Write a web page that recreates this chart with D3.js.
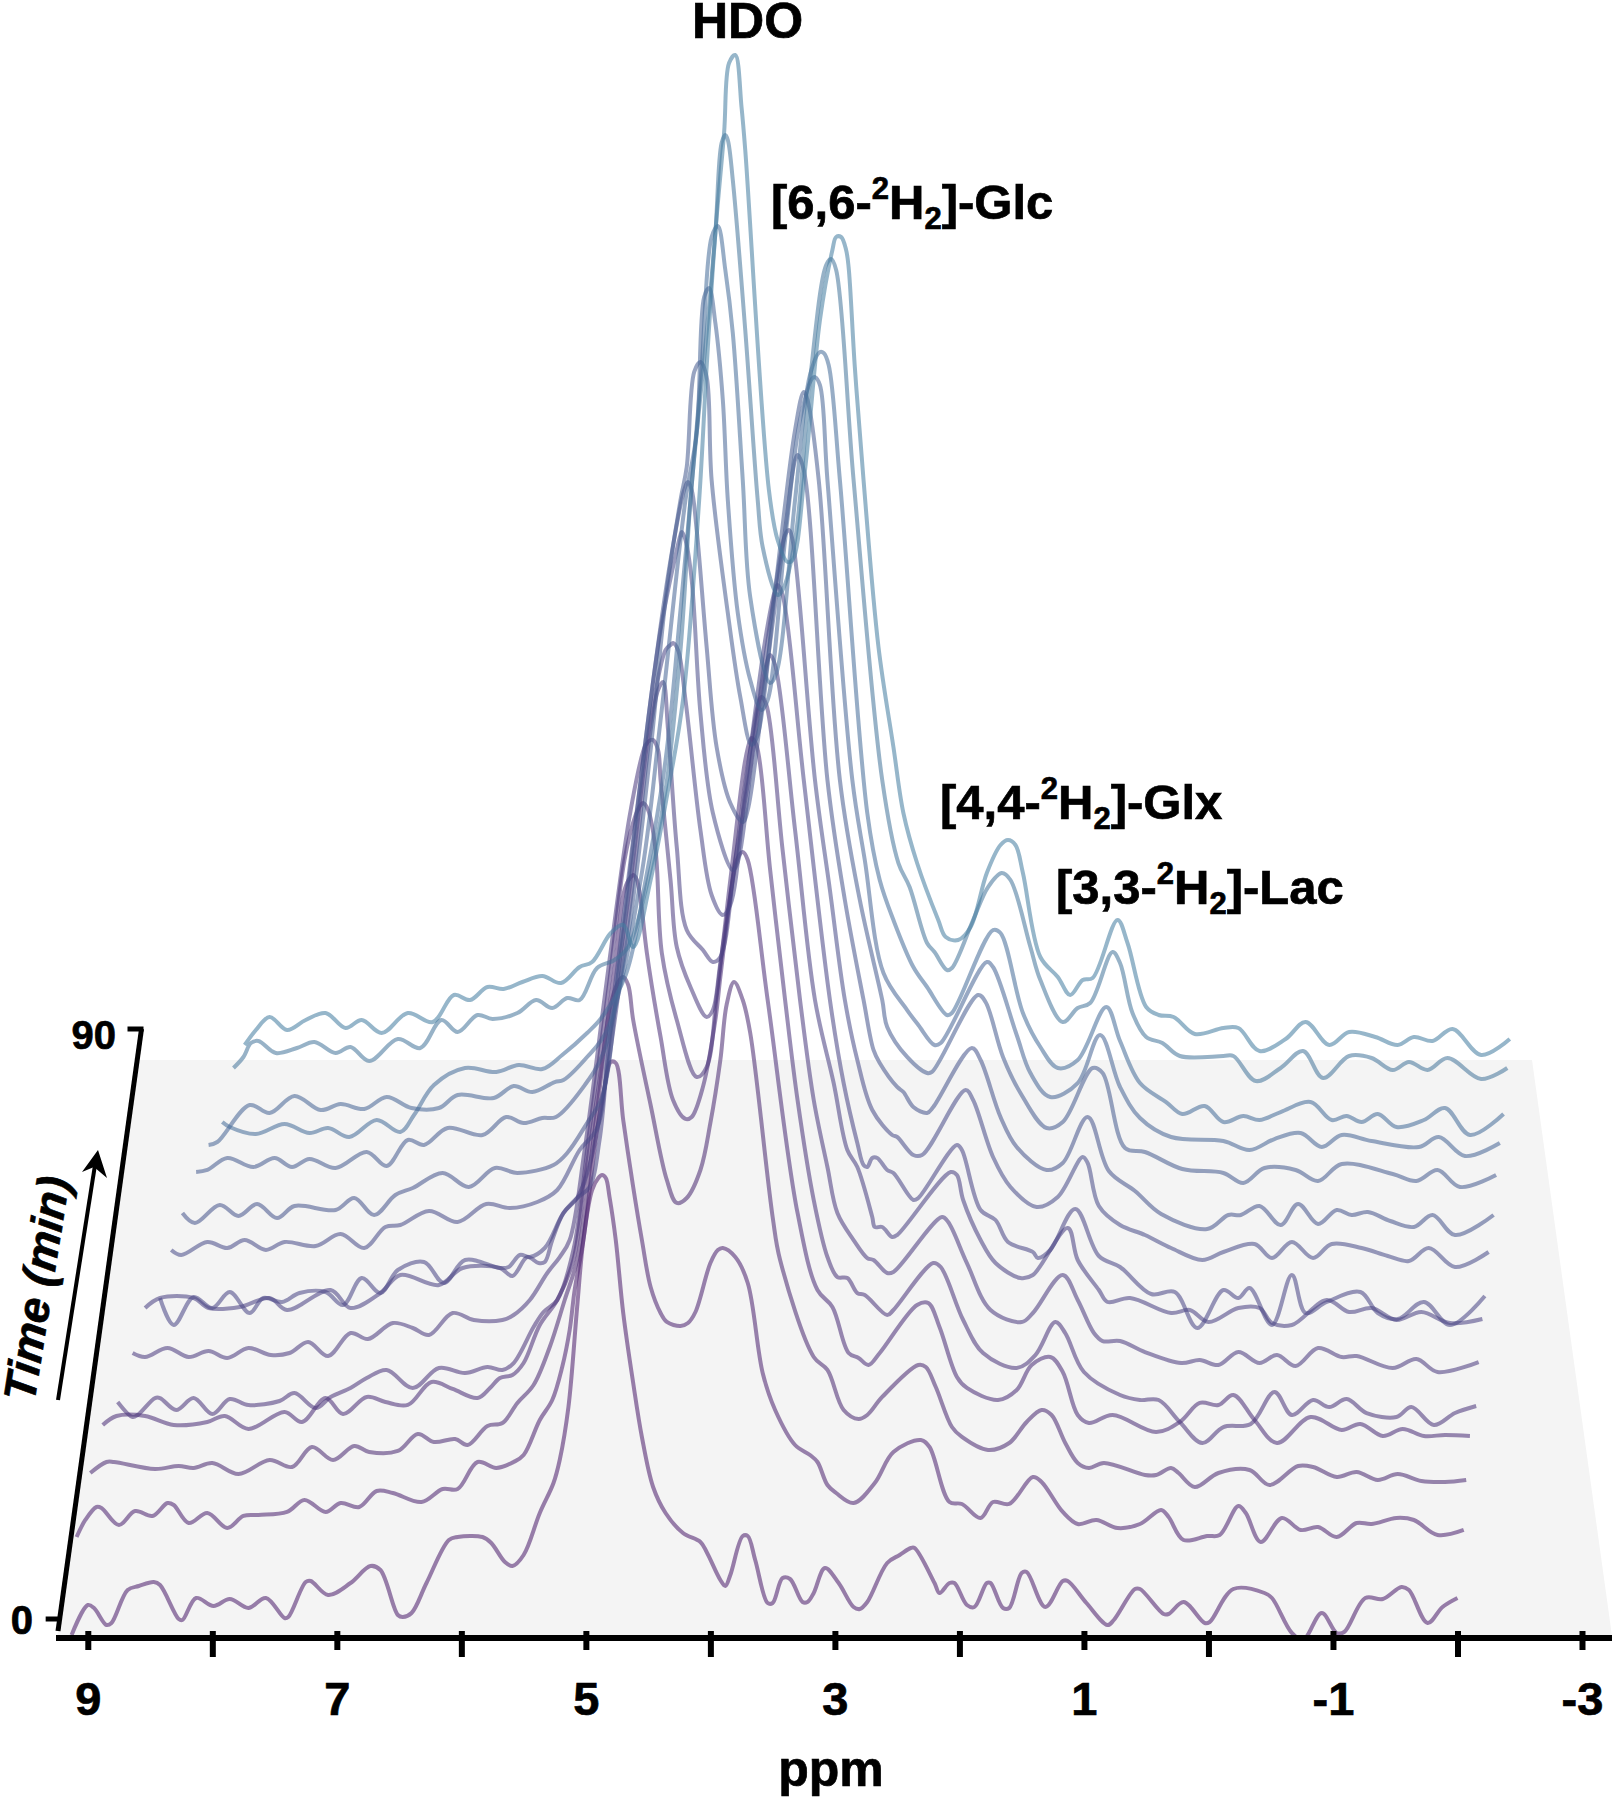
<!DOCTYPE html>
<html><head><meta charset="utf-8">
<script src="https://cdn.jsdelivr.net/npm/d3@7"></script>
<style>html,body{margin:0;padding:0;background:#fff}svg{display:block}text{font-family:"Liberation Sans",Arial,sans-serif;font-weight:700;fill:#000;stroke:#000;stroke-width:.7px}</style>
</head><body><svg id="c" width="1619" height="1800"></svg>
<script>
// [ppm as read on the axis below the trace, intensity in a.u.]
const t00=[[9.13,-35],[9.00,-5],[8.95,-8],[8.85,-25],[8.81,-23],[8.68,10],[8.59,14],[8.47,18],[8.42,15],[8.27,-19],[8.24,-20],[8.13,2],[7.99,-6],[7.86,1],[7.71,-8],[7.57,2],[7.42,-18],[7.39,-17],[7.25,18],[7.21,19],[7.07,5],[6.89,17],[6.73,34],[6.65,30],[6.51,-15],[6.47,-17],[6.40,-13],[6.28,17],[6.10,60],[6.03,63],[5.83,63],[5.76,57],[5.65,38],[5.59,34],[5.50,45],[5.37,87],[5.26,117],[5.21,140],[5.14,193],[5.07,293],[5.02,360],[4.95,410],[4.90,422],[4.87,425],[4.84,422],[4.81,403],[4.76,360],[4.70,287],[4.62,217],[4.55,163],[4.46,113],[4.36,87],[4.22,67],[4.08,58],[4.03,48],[3.92,20],[3.88,14],[3.84,25],[3.74,64],[3.70,64],[3.64,40],[3.54,-3],[3.50,-3],[3.42,22],[3.36,21],[3.26,-2],[3.22,-2],[3.17,7],[3.08,32],[2.97,17],[2.85,-7],[2.80,-9],[2.74,-2],[2.58,37],[2.48,45],[2.39,52],[2.36,52],[2.20,17],[2.16,7],[2.08,17],[2.04,17],[1.94,-5],[1.88,-7],[1.78,17],[1.75,17],[1.65,-8],[1.60,-8],[1.50,27],[1.46,28],[1.31,-7],[1.17,19],[1.13,19],[.98,-3],[.81,-25],[.76,-20],[.59,11],[.55,11],[.36,-14],[.32,-14],[.20,-2],[.03,-23],[-.01,-22],[-.20,11],[-.45,7],[-.51,2],[-.67,-33],[-.76,-40],[-.91,-13],[-1.03,-33],[-1.09,-32],[-1.26,2],[-1.40,1],[-1.55,13],[-1.61,10],[-1.76,-23],[-1.88,-7],[-2.00,2]];
const t01=[[9.09,23],[9.02,40],[8.93,53],[8.89,52],[8.75,35],[8.62,49],[8.48,44],[8.36,57],[8.31,55],[8.19,37],[8.04,47],[7.88,32],[7.75,44],[7.63,45],[7.40,48],[7.26,60],[7.09,48],[6.97,57],[6.82,53],[6.68,69],[6.55,67],[6.32,58],[6.15,71],[6.03,71],[5.87,98],[5.72,92],[5.58,98],[5.50,105],[5.37,140],[5.27,160],[5.19,193],[5.13,230],[5.09,270],[5.02,320],[4.91,430],[4.85,473],[4.80,498],[4.76,497],[4.70,440],[4.62,373],[4.55,320],[4.48,273],[4.40,247],[4.35,238],[4.24,234],[4.18,237],[4.12,248],[4.00,297],[3.94,310],[3.90,312],[3.80,303],[3.70,277],[3.58,187],[3.48,150],[3.32,115],[3.20,105],[3.14,98],[3.06,75],[2.99,67],[2.85,57],[2.68,77],[2.53,108],[2.31,120],[2.24,113],[2.08,58],[1.98,56],[1.83,42],[1.73,58],[1.60,56],[1.41,83],[1.34,78],[1.17,48],[1.05,36],[.90,40],[.73,32],[.55,36],[.38,50],[.32,43],[.20,20],[.01,24],[-.09,25],[-.24,54],[-.30,47],[-.42,18],[-.59,42],[-.74,30],[-.88,33],[-1.03,23],[-1.19,37],[-1.31,36],[-1.51,42],[-1.65,40],[-1.84,25],[-2.05,30]];
const t02=[[8.98,47],[8.85,58],[8.79,58],[8.46,51],[8.27,54],[8.15,52],[8.00,57],[7.79,46],[7.54,60],[7.36,53],[7.20,73],[7.03,60],[6.86,74],[6.74,68],[6.51,69],[6.35,86],[6.22,78],[6.05,81],[5.95,75],[5.79,94],[5.67,97],[5.55,117],[5.42,135],[5.29,173],[5.17,220],[5.07,260],[4.97,350],[4.89,430],[4.81,510],[4.74,538],[4.70,543],[4.66,535],[4.62,500],[4.48,415],[4.35,340],[4.27,317],[4.19,322],[4.08,350],[4.00,397],[3.92,460],[3.87,515],[3.81,538],[3.74,520],[3.68,487],[3.50,303],[3.44,260],[3.17,163],[3.06,150],[2.93,110],[2.81,101],[2.74,105],[2.62,123],[2.33,155],[2.27,153],[2.19,133],[2.06,93],[1.98,83],[1.77,70],[1.60,77],[1.46,98],[1.34,110],[1.26,105],[1.15,77],[1.05,57],[.96,52],[.84,57],[.51,45],[.42,45],[.30,52],[.24,47],[.11,33],[-.08,47],[-.33,50],[-.49,35],[-.72,54],[-.84,53],[-1.03,43],[-1.19,48],[-1.36,40],[-1.52,46],[-1.71,39],[-1.90,38],[-2.07,40]];
const t03=[[8.88,55],[8.77,64],[8.54,64],[8.31,55],[8.04,58],[7.90,64],[7.71,51],[7.42,68],[7.28,58],[7.09,82],[6.95,66],[6.76,83],[6.61,78],[6.43,75],[6.24,98],[6.07,91],[5.87,82],[5.77,92],[5.69,102],[5.59,105],[5.50,117],[5.37,155],[5.23,180],[5.10,220],[5.01,300],[4.89,400],[4.76,520],[4.69,590],[4.64,603],[4.62,605],[4.59,600],[4.56,580],[4.51,527],[4.40,443],[4.30,380],[4.20,361],[4.15,363],[4.06,393],[3.96,460],[3.92,503],[3.82,600],[3.78,622],[3.74,628],[3.70,620],[3.54,480],[3.30,267],[3.14,190],[3.02,173],[2.89,127],[2.81,122],[2.73,115],[2.64,127],[2.34,175],[2.25,177],[2.16,153],[2.02,103],[1.94,92],[1.69,80],[1.54,90],[1.42,115],[1.27,123],[1.17,108],[1.05,65],[.96,57],[.77,65],[.42,48],[.23,58],[.07,77],[-.08,75],[-.20,85],[-.37,60],[-.55,37],[-.82,63],[-1.07,50],[-1.22,56],[-1.40,44],[-1.56,51],[-1.73,44],[-1.90,45],[-2.10,44]];
const t04=[[8.76,38],[8.64,23],[8.60,25],[8.46,42],[8.42,42],[8.29,30],[8.15,42],[8.00,26],[7.86,41],[7.71,35],[7.46,39],[7.34,47],[7.17,32],[7.05,43],[6.89,52],[6.76,62],[6.60,70],[6.39,52],[6.18,72],[5.97,67],[5.79,73],[5.67,70],[5.58,77],[5.42,113],[5.34,128],[5.23,140],[5.10,190],[4.97,310],[4.81,460],[4.69,580],[4.60,625],[4.56,635],[4.54,637],[4.50,630],[4.44,590],[4.39,487],[4.27,420],[4.11,363],[4.03,373],[3.95,443],[3.84,560],[3.72,680],[3.68,700],[3.67,702],[3.63,695],[3.52,570],[3.40,440],[3.30,340],[3.17,240],[3.06,183],[2.98,163],[2.90,162],[2.82,147],[2.76,145],[2.58,125],[2.53,130],[2.21,177],[2.15,173],[1.97,120],[1.81,87],[1.54,72],[1.39,85],[1.23,118],[1.15,107],[1.00,68],[.71,45],[.55,40],[.40,40],[.23,18],[.05,-3],[-.12,13],[-.34,16],[-.53,48],[-.67,25],[-.84,40],[-.97,33],[-1.11,41],[-1.27,27],[-1.51,23],[-1.63,33],[-1.81,15],[-1.98,27],[-2.15,34]];
const t05=[[8.64,47],[8.54,43],[8.36,52],[8.19,43],[8.03,49],[7.88,42],[7.71,52],[7.53,45],[7.38,47],[7.23,58],[7.07,44],[6.89,67],[6.75,61],[6.55,77],[6.39,72],[6.26,65],[6.07,87],[5.90,80],[5.67,80],[5.58,85],[5.45,100],[5.31,127],[5.21,143],[5.13,160],[5.01,250],[4.81,440],[4.64,590],[4.52,655],[4.48,660],[4.46,660],[4.42,650],[4.40,620],[4.32,520],[4.27,453],[4.16,413],[4.03,383],[3.98,390],[3.92,437],[3.80,540],[3.68,650],[3.59,703],[3.55,695],[3.42,550],[3.28,400],[3.17,300],[3.06,233],[2.98,187],[2.85,160],[2.74,142],[2.69,140],[2.58,127],[2.53,128],[2.14,183],[2.09,178],[1.94,137],[1.75,90],[1.50,78],[1.41,87],[1.17,125],[1.05,100],[.92,67],[.85,59],[.71,59],[.51,48],[.22,37],[.07,40],[-.08,35],[-.24,48],[-.41,37],[-.55,45],[-.70,34],[-.88,52],[-1.07,43],[-1.19,44],[-1.48,32],[-1.67,41],[-1.84,28],[-2.17,38]];
const t06=[[8.54,52],[8.42,62],[8.15,62],[8.03,52],[7.78,53],[7.54,62],[7.40,50],[7.05,70],[6.89,52],[6.65,67],[6.49,85],[6.18,75],[5.99,92],[5.69,92],[5.59,84],[5.47,103],[5.38,97],[5.33,98],[5.27,120],[5.18,147],[5.07,162],[4.97,195],[4.84,280],[4.64,460],[4.48,630],[4.42,670],[4.38,678],[4.34,630],[4.27,513],[4.19,430],[4.06,410],[3.98,398],[3.92,403],[3.80,500],[3.68,590],[3.56,690],[3.52,705],[3.48,695],[3.32,530],[3.16,360],[3.01,277],[2.90,210],[2.82,193],[2.70,143],[2.68,133],[2.62,133],[2.54,123],[2.50,125],[2.07,188],[2.02,185],[1.97,160],[1.83,120],[1.71,97],[1.51,82],[1.41,85],[1.13,132],[1.05,100],[.88,70],[.81,58],[.63,62],[.30,47],[.15,50],[0,38],[-.24,52],[-.41,52],[-.51,37],[-.67,35],[-.95,60],[-1.13,48],[-1.31,52],[-1.51,40],[-1.71,48],[-1.94,37],[-2.20,41]];
const t07=[[8.42,22],[8.31,-5],[8.15,23],[8.00,12],[7.86,28],[7.70,7],[7.59,22],[7.44,18],[7.30,27],[7.09,28],[6.95,15],[6.80,42],[6.65,27],[6.51,50],[6.30,58],[6.14,37],[5.97,60],[5.69,52],[5.62,53],[5.53,65],[5.45,63],[5.33,72],[5.18,107],[5.07,122],[4.97,133],[4.89,180],[4.81,280],[4.64,440],[4.48,600],[4.36,670],[4.32,675],[4.30,677],[4.26,670],[4.20,620],[4.08,490],[3.99,425],[3.90,405],[3.84,415],[3.72,530],[3.56,680],[3.48,730],[3.46,735],[3.42,725],[3.25,540],[3.04,320],[2.93,237],[2.82,177],[2.77,155],[2.74,153],[2.70,162],[2.66,162],[2.58,150],[2.53,147],[2.37,120],[2.33,122],[2.02,175],[1.98,170],[1.83,110],[1.71,100],[1.61,78],[1.41,68],[1.37,62],[1.27,70],[1.07,111],[.88,64],[.71,53],[.46,26],[.27,28],[.09,-8],[-.12,30],[-.24,22],[-.33,32],[-.51,-5],[-.67,45],[-.78,7],[-.95,18],[-1.22,28],[-1.36,7],[-1.52,1],[-1.73,18],[-1.94,-5],[-2.22,24]];
const t08=[[8.33,30],[8.25,25],[8.04,38],[7.88,32],[7.74,40],[7.57,30],[7.42,38],[7.17,34],[6.97,46],[6.78,32],[6.61,53],[6.49,55],[6.26,69],[6.03,58],[5.80,76],[5.61,72],[5.39,78],[5.23,90],[5.05,130],[4.91,152],[4.81,250],[4.56,500],[4.40,650],[4.27,730],[4.24,745],[4.23,748],[4.20,740],[4.15,700],[4.08,567],[3.98,467],[3.82,410],[3.78,418],[3.64,550],[3.48,690],[3.40,745],[3.37,750],[3.34,740],[3.16,500],[3.04,390],[2.92,280],[2.82,220],[2.70,170],[2.54,145],[2.50,143],[2.37,125],[2.30,125],[1.95,190],[1.89,180],[1.73,123],[1.59,93],[1.38,73],[1.21,83],[1.01,123],[.97,117],[.88,74],[.71,55],[.51,45],[.30,32],[.05,20],[-.12,28],[-.37,36],[-.51,22],[-.67,38],[-.84,22],[-.99,36],[-1.23,32],[-1.44,24],[-1.61,19],[-1.77,32],[-1.98,13],[-2.25,28]];
const t09=[[8.24,27],[8.14,17],[7.94,35],[7.79,24],[7.64,36],[7.48,22],[7.34,34],[7.01,30],[6.86,42],[6.70,25],[6.53,45],[6.39,52],[6.15,67],[5.94,53],[5.73,72],[5.55,67],[5.26,75],[5.15,87],[4.99,117],[4.87,143],[4.72,290],[4.48,540],[4.32,680],[4.21,750],[4.18,758],[4.15,750],[4.11,710],[4.03,593],[3.95,493],[3.84,437],[3.74,418],[3.70,430],[3.56,560],[3.40,710],[3.32,780],[3.30,785],[3.25,770],[3.06,460],[2.92,340],[2.77,240],[2.69,190],[2.64,177],[2.50,153],[2.45,148],[2.37,133],[2.26,127],[2.21,133],[1.90,192],[1.83,180],[1.67,123],[1.54,93],[1.30,70],[1.17,77],[.97,123],[.80,69],[.59,49],[.38,26],[.01,11],[-.16,25],[-.26,25],[-.41,34],[-.58,15],[-.72,36],[-.88,16],[-1.03,30],[-1.15,25],[-1.28,28],[-1.46,19],[-1.65,13],[-1.80,25],[-1.98,5],[-2.29,25]];
const t10=[[8.13,28],[8.04,30],[7.88,42],[7.67,33],[7.50,42],[7.36,33],[7.22,41],[7.01,32],[6.76,48],[6.60,34],[6.43,60],[6.30,55],[6.11,72],[5.83,65],[5.64,83],[5.50,77],[5.35,82],[5.24,83],[5.02,113],[4.86,147],[4.68,250],[4.48,450],[4.36,600],[4.24,700],[4.19,733],[4.13,828],[4.08,838],[4.03,823],[3.99,720],[3.86,587],[3.76,503],[3.67,455],[3.62,465],[3.48,610],[3.32,770],[3.25,808],[3.22,800],[3.13,720],[2.96,420],[2.80,300],[2.62,200],[2.58,173],[2.42,143],[2.26,127],[2.22,128],[1.85,205],[1.79,198],[1.65,143],[1.51,107],[1.30,72],[1.17,78],[.93,132],[.85,127],[.67,52],[.51,48],[.21,31],[-.12,27],[-.28,17],[-.45,32],[-.70,30],[-.88,19],[-1.07,36],[-1.48,26],[-1.67,19],[-1.84,30],[-2.02,13],[-2.31,25]];
const t11=[[8.03,15],[7.96,18],[7.70,55],[7.54,47],[7.34,64],[7.13,50],[6.97,56],[6.78,51],[6.60,63],[6.40,52],[6.18,52],[6.03,65],[5.74,62],[5.58,74],[5.43,68],[5.25,78],[5.18,80],[4.99,103],[4.83,130],[4.56,280],[4.40,440],[4.20,660],[4.11,727],[4.05,863],[4.01,872],[3.96,837],[3.90,760],[3.86,660],[3.78,547],[3.68,480],[3.59,450],[3.54,460],[3.40,620],[3.28,740],[3.18,782],[3.16,783],[3.12,775],[3.06,680],[2.86,380],[2.76,300],[2.61,187],[2.42,150],[2.33,135],[2.20,115],[2.15,117],[1.78,198],[1.73,193],[1.54,125],[1.43,87],[1.27,63],[1.05,77],[.87,125],[.71,73],[.55,42],[.30,23],[-.12,19],[-.33,10],[-.53,21],[-.74,27],[-.91,13],[-1.07,25],[-1.31,19],[-1.69,13],[-1.85,23],[-2.06,4],[-2.34,17]];
const t12=[[7.92,-2],[7.86,-7],[7.65,-14],[7.42,-4],[7.22,-13],[7.07,-8],[6.90,-17],[6.68,0],[6.49,-12],[6.38,5],[6.22,35],[5.97,52],[5.72,48],[5.54,55],[5.35,51],[5.19,65],[4.99,87],[4.87,103],[4.68,145],[4.52,240],[4.36,360],[4.24,510],[4.16,620],[4.07,753],[3.99,883],[3.94,894],[3.88,850],[3.82,787],[3.74,640],[3.68,523],[3.52,437],[3.47,447],[3.32,620],[3.20,745],[3.12,768],[3.09,767],[3.05,755],[2.96,640],[2.74,307],[2.64,240],[2.53,200],[2.37,153],[2.26,133],[2.10,105],[2.06,107],[1.73,190],[1.67,187],[1.49,107],[1.35,73],[1.21,52],[1.05,60],[.82,113],[.71,79],[.55,37],[.34,18],[.21,6],[.03,14],[-.12,-2],[-.28,4],[-.41,0],[-.58,8],[-.82,18],[-.99,0],[-1.11,4],[-1.23,-2],[-1.36,6],[-1.51,-7],[-1.73,0],[-1.90,12],[-2.10,-15],[-2.37,6]];
const t13=[[7.83,12],[7.75,23],[7.69,37],[7.63,39],[7.49,27],[7.32,32],[7.18,38],[7.01,27],[6.89,33],[6.74,19],[6.51,41],[6.33,32],[6.16,60],[6.03,48],[5.87,65],[5.75,61],[5.55,67],[5.40,80],[5.27,72],[5.15,82],[5.05,80],[4.91,112],[4.77,120],[4.66,133],[4.52,190],[4.36,290],[4.24,430],[4.16,580],[4.11,647],[4.03,747],[3.96,847],[3.91,937],[3.88,945],[3.86,940],[3.82,900],[3.72,750],[3.62,580],[3.58,533],[3.46,485],[3.42,490],[3.32,540],[3.20,700],[3.07,815],[3.03,821],[2.99,810],[2.85,600],[2.62,300],[2.49,217],[2.40,193],[2.26,137],[2.20,128],[2.10,110],[2.06,112],[1.89,160],[1.77,193],[1.66,207],[1.59,200],[1.43,133],[1.35,100],[1.17,58],[1.05,72],[.95,77],[.77,128],[.71,117],[.61,67],[.50,43],[.37,37],[.23,24],[-.12,24],[-.20,24],[-.38,-1],[-.58,12],[-.76,29],[-.92,2],[-1.13,24],[-1.31,22],[-1.48,10],[-1.61,18],[-1.76,10],[-1.92,22],[-2.19,1],[-2.40,12]];
const t14=[[7.74,-5],[7.65,10],[7.54,23],[7.40,10],[7.25,20],[7.09,27],[6.93,12],[6.80,20],[6.64,7],[6.43,27],[6.23,18],[6.06,45],[5.93,40],[5.79,53],[5.66,51],[5.51,58],[5.35,64],[5.20,57],[5.05,73],[4.95,78],[4.80,107],[4.70,115],[4.62,93],[4.48,160],[4.35,243],[4.22,340],[4.09,540],[4.03,673],[3.96,807],[3.89,907],[3.85,977],[3.80,985],[3.75,933],[3.72,890],[3.53,550],[3.46,500],[3.38,478],[3.34,480],[3.24,570],[3.12,720],[3.02,790],[2.99,803],[2.95,803],[2.91,790],[2.89,773],[2.84,673],[2.77,560],[2.65,393],[2.53,293],[2.45,227],[2.34,177],[2.17,120],[2.11,103],[2.01,100],[1.91,113],[1.78,167],[1.67,195],[1.61,200],[1.55,195],[1.49,167],[1.35,83],[1.21,63],[1.11,45],[1.01,60],[.93,62],[.73,120],[.65,97],[.50,33],[.40,25],[.28,23],[.11,6],[-.12,12],[-.24,12],[-.41,-11],[-.62,1],[-.78,18],[-.97,-5],[-1.13,8],[-1.34,3],[-1.52,-5],[-1.65,3],[-1.80,-1],[-1.96,11],[-2.19,-15],[-2.42,1]];
const traces=[t00,t01,t02,t03,t04,t05,t06,t07,t08,t09,t10,t11,t12,t13,t14];
const times=[0,6.43,12.86,19.29,25.71,32.14,38.57,45,51.43,57.86,64.29,70.71,77.14,83.57,90];
const ppmMajor=[9,7,5,3,1,-1,-3];
const ppmMinor=[8,6,4,2,0,-2];
const timeTicks=[0,90];
const labels=[
 {parts:["HDO"]},
 {parts:["[6,6-","2","H","2","]-Glc"]},
 {parts:["[4,4-","2","H","2","]-Glx"]},
 {parts:["[3,3-","2","H","2","]-Lac"]}];
const labelAnchor=[[692,38],[771,219],[940,819],[1056,904]];

const svg=d3.select("#c");
const xS=d3.scaleLinear().domain([9,-3]).range([87.8,1582]);
const yS=d3.scaleLinear().domain([0,1000]).range([1600,600]);
const timeShift=d3.scaleLinear().domain([0,90]).range([0,-560]);
const timeAxis=d3.scaleLinear().domain([0,90]).range([1619,1029]);
const colour=d3.scaleLinear().domain([0,45,90]).range(["#4c1f6c","#4a4586","#447da0"]).interpolate(d3.interpolateRgb);
const timeX=d3.scaleLinear().domain([1631,1029]).range([58,141.5]);

svg.append("path").attr("fill","#f4f4f4")
 .attr("d",d3.line()([[timeX(1060),1060],[1532,1060],[1612,1636],[timeX(1636),1636]])+"Z");

const defs=svg.append("defs");
defs.append("clipPath").attr("id","floor").append("rect").attr("x",0).attr("y",0).attr("width",1619).attr("height",1636);

const line=d3.line().x(d=>xS(d[0])).y(d=>yS(d[1])).curve(d3.curveCatmullRom.alpha(0.5));
svg.append("g").attr("clip-path","url(#floor)").selectAll("path").data(traces).join("path")
 .attr("d",d=>line(d)).attr("fill","none")
 .attr("stroke",(d,i)=>colour(times[i])).attr("stroke-opacity",0.56)
 .attr("stroke-width",4).attr("stroke-linejoin","round")
 .attr("transform",(d,i)=>`translate(0,${timeShift(times[i])})`);

const axisY=1638;
const gx=svg.append("g").attr("transform",`translate(0,${axisY})`);
gx.append("line").attr("x1",56).attr("x2",1612).attr("stroke","#000").attr("stroke-width",6);
const gMaj=gx.append("g").call(d3.axisBottom(xS).tickValues(ppmMajor).tickSize(12).tickPadding(34).tickFormat(d=>d));
const gMin=gx.append("g").call(d3.axisBottom(xS).tickValues(ppmMinor).tickSize(19).tickFormat(""));
[gMaj,gMin].forEach(g=>{g.select(".domain").remove();
 g.selectAll(".tick line").attr("y1",-7).attr("stroke","#000").attr("stroke-width",6);});
gMaj.selectAll(".tick text").attr("font-size",47).attr("font-family",'"Liberation Sans",Arial,sans-serif').attr("font-weight",700).attr("fill","#000").attr("dy",null).attr("y",77).attr("text-anchor","middle");
svg.append("text").attr("x",831).attr("y",1786).attr("text-anchor","middle").attr("font-size",50).text("ppm");

svg.append("line").attr("x1",timeX(1631)).attr("y1",1631).attr("x2",timeX(1029)).attr("y2",1029)
 .attr("stroke","#000").attr("stroke-width",5);
const tickG=svg.append("g").selectAll("g").data(timeTicks).join("g");
tickG.append("line").attr("x1",d=>timeX(timeAxis(d))-14).attr("x2",d=>timeX(timeAxis(d))+(d?2:0))
 .attr("y1",d=>timeAxis(d)).attr("y2",d=>timeAxis(d)).attr("stroke","#000").attr("stroke-width",5);
tickG.append("text").attr("x",d=>d?116:33).attr("y",d=>d?1049:1634).attr("text-anchor","end").attr("font-size",40).text(d=>d);

svg.append("text").attr("transform","translate(52,1291) rotate(-81)").attr("text-anchor","middle")
 .attr("font-size",45).attr("font-style","italic").text("Time (min)");
svg.append("line").attr("x1",58).attr("y1",1400).attr("x2",95).attr("y2",1165).attr("stroke","#000").attr("stroke-width",4);
svg.append("path").attr("fill","#000").attr("d",d3.line()([[98,1150],[107,1178],[94,1167],[82,1172]])+"Z");

labels.forEach((l,i)=>{
 const t=svg.append("text").attr("x",labelAnchor[i][0]).attr("y",labelAnchor[i][1]).attr("font-size",l.parts.length===1?50:49);
 if(l.parts.length===1){t.text(l.parts[0]);return;}
 t.append("tspan").text(l.parts[0]);
 t.append("tspan").attr("font-size",31).attr("dy",-20).text(l.parts[1]);
 t.append("tspan").attr("dy",20).text(l.parts[2]);
 t.append("tspan").attr("font-size",31).attr("dy",10).text(l.parts[3]);
 t.append("tspan").attr("dy",-10).text(l.parts[4]);
});
</script></body></html>
